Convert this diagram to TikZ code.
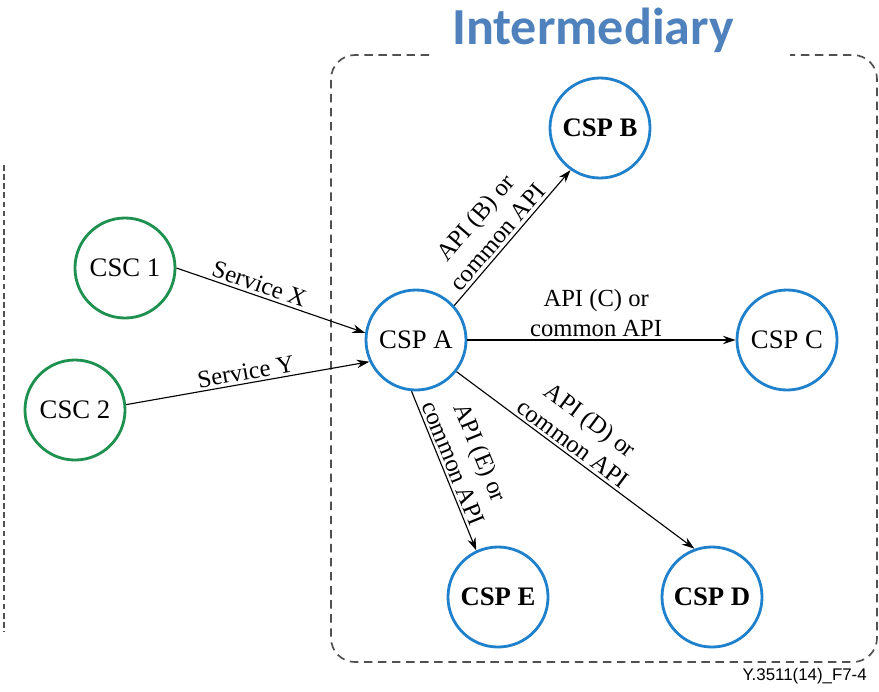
\documentclass[tikz,border=0pt]{standalone}
\usepackage{fontspec}
\setmainfont{Liberation Serif}
\newfontfamily\titlefont{Carlito}
\newfontfamily\capfont{Liberation Sans}
\usepackage{tikz}
\usetikzlibrary{positioning, arrows.meta}
\definecolor{cscGreen}{HTML}{1E9150}
\definecolor{cspBlue}{HTML}{1F80CC}
\definecolor{titleBlue}{HTML}{4F81BD}
\definecolor{boxGray}{HTML}{505050}

\begin{document}
\begin{tikzpicture}[
  x=0.025cm, y=-0.025cm,
  every node/.style={font=\fontsize{17.5}{21}\selectfont},
  csc/.style={
    circle, draw=cscGreen, line width=2pt,
    minimum size=2.5cm, inner sep=0pt,
    font=\fontsize{19}{20}\selectfont
  },
  csp/.style={
    circle, draw=cspBlue, line width=2pt,
    minimum size=2.5cm, inner sep=0pt,
    font=\fontsize{19}{20}\selectfont
  },
  link/.style={line width=0.8pt, -{Stealth[length=9pt,width=6pt]}},
  apilabel/.style={sloped, above, align=center, inner sep=2pt},
  border/.style={draw=boxGray, line width=1.2pt, dash pattern=on 6pt off 4pt},
]
\useasboundingbox (0,0) rectangle (879,691);

% Intermediary box
\node[font=\titlefont\bfseries\fontsize{37}{40}\selectfont, text=titleBlue] (title) at (593,30) {Intermediary};
\draw[border, rounded corners=0.6cm]
  (429,55) -- (331,55) -- (331,662) -- (877,662) -- (877,55) -- (790,55);

% Customer side box
\draw[border, dash pattern=on 4pt off 2.5pt] (4,165) -- (4,632);

% Customers
\node[csc] (csc1) at (125,268) {CSC 1};
\node[csc] (csc2) at (75,410) {CSC 2};

% Providers
\node[csp] (cspa) at (416,340) {CSP A};
\node[csp, font=\fontsize{19}{20}\selectfont\bfseries] (cspb) at (600,128) {CSP B};
\node[csp] (cspc) at (787,340) {CSP C};
\node[csp, font=\fontsize{19}{20}\selectfont\bfseries] (cspd) at (712,597) {CSP D};
\node[csp, font=\fontsize{19}{20}\selectfont\bfseries] (cspe) at (498,597) {CSP E};

% Services
\draw[link] (csc1.east) -- node[apilabel, pos=0.42] {Service X} (cspa.172);
\draw[link] (csc2.6) -- node[apilabel, pos=0.5] {Service Y} (cspa.205);

% APIs
\draw[link] (cspa.42) -- node[apilabel, pos=0.45] {API (B) or\\common API} (cspb.235);
\draw[link] (cspa) -- node[apilabel, pos=0.48] {API (C) or\\common API} (cspc);
\draw[link] (cspa.322) -- node[apilabel, pos=0.46] {API (D) or\\common API} (cspd.110);
\draw[link] (cspa.265) -- node[apilabel, pos=0.48] {API (E) or\\common API} (cspe.115);

% Figure tag
\node[font=\capfont\fontsize{12}{12}\selectfont, anchor=east, inner sep=0pt] (tag) at (867,676) {Y.3511(14)\_F7-4};

\end{tikzpicture}
\end{document}
